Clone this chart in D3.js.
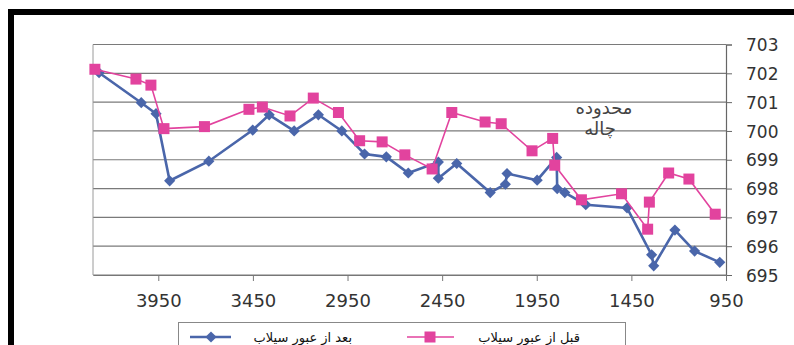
<!DOCTYPE html>
<html><head><meta charset="utf-8">
<script src="https://cdn.jsdelivr.net/npm/d3@7"></script>
<style>body{margin:0;background:#fff;} svg{display:block;}</style>
</head><body>
<script>
// Data
const afterX = [4263,4040,3962,3890,3683,3451,3364,3232,3104,2980,2860,2745,2629,2470,2470,2373,2196,2116,2107,1948,1845,1842,1802,1691,1473,1343,1332,1220,1116,983];
const afterY = [702.02,700.98,700.6,698.27,698.95,700.03,700.56,700.0,700.56,700.0,699.2,699.1,698.54,698.92,698.36,698.87,697.86,698.15,698.52,698.29,699.08,698.0,697.86,697.44,697.33,695.7,695.32,696.56,695.83,695.44];
const beforeX = [4285,4068,3989,3920,3706,3471,3400,3254,3131,2998,2886,2767,2647,2503,2399,2223,2138,1975,1866,1855,1714,1502,1364,1355,1253,1146,1007];
const beforeY = [702.14,701.8,701.59,700.08,700.15,700.75,700.83,700.52,701.14,700.64,699.66,699.62,699.17,698.68,700.64,700.31,700.25,699.31,699.74,698.81,697.61,697.82,696.59,697.53,698.54,698.33,697.11];
const xTicks = [3950,3450,2950,2450,1950,1450,950];
const yTicks = [695,696,697,698,699,700,701,702,703];
const seriesNames = ["بعد از عبور سیلاب","قبل از عبور سیلاب"];
const annotation = ["محدوده","چاله"];

const W=794,H=345;
const blue="#4a66aa", pink="#e2439e";
const svg=d3.select("body").append("svg").attr("width",W).attr("height",H);
svg.append("rect").attr("width",W).attr("height",H).attr("fill","#fff");
// frame bars
svg.append("rect").attr("x",8).attr("y",9).attr("width",W-8).attr("height",6).attr("fill","#000");
svg.append("rect").attr("x",8).attr("y",9).attr("width",6).attr("height",H-9).attr("fill","#000");

const L=93,R=726,T=44.5,B=275;
const x=d3.scaleLinear().domain([4295,950]).range([L,R]);
const y=d3.scaleLinear().domain([695,703]).range([B,T]);

// gridlines
svg.append("g").selectAll("line").data(yTicks).join("line")
  .attr("x1",L).attr("x2",R).attr("y1",d=>y(d)).attr("y2",d=>y(d))
  .attr("stroke","#7a7a7a").attr("stroke-width",1.2);
// plot border left
svg.append("line").attr("x1",L).attr("x2",L).attr("y1",T).attr("y2",B).attr("stroke","#9a9a9a").attr("stroke-width",1);

// right axis
const ya=svg.append("g").attr("transform",`translate(${R},0)`)
  .call(d3.axisRight(y).tickValues(yTicks).tickFormat(d3.format("d")).tickSize(6).tickPadding(14));
ya.select(".domain").attr("stroke","#666").attr("stroke-width",1.2);
ya.selectAll(".tick line").attr("stroke","#666");
ya.selectAll("text").attr("font-family","DejaVu Sans").attr("font-size",17).attr("fill","#333").attr("dy","0.36em");

// bottom axis
const xa=svg.append("g").attr("transform",`translate(0,${B})`)
  .call(d3.axisBottom(x).tickValues(xTicks).tickFormat(d3.format("d")).tickSize(6).tickSizeOuter(0).tickPadding(12));
xa.select(".domain").attr("stroke","#777").attr("stroke-width",1.2);
xa.selectAll(".tick line").attr("stroke","#777");
xa.selectAll("text").attr("font-family","DejaVu Sans").attr("font-size",18).attr("fill","#333").attr("dy","0.75em");

const line=d3.line().x(d=>x(d[0])).y(d=>y(d[1]));
const aData=afterX.map((v,i)=>[v,afterY[i]]);
const bData=beforeX.map((v,i)=>[v,beforeY[i]]);
const diamond=d3.symbol().type(d3.symbolDiamond2).size(80);

svg.append("path").datum(aData).attr("d",line).attr("fill","none").attr("stroke",blue).attr("stroke-width",2.6);
svg.append("g").selectAll("path").data(aData).join("path")
  .attr("d",diamond).attr("transform",d=>`translate(${x(d[0])},${y(d[1])})`).attr("fill",blue);

svg.append("path").datum(bData).attr("d",line).attr("fill","none").attr("stroke",pink).attr("stroke-width",1.6);
svg.append("g").selectAll("rect").data(bData).join("rect")
  .attr("x",d=>x(d[0])-5.5).attr("y",d=>y(d[1])-5.5).attr("width",11).attr("height",11).attr("fill",pink);

// annotation
svg.append("g").selectAll("text").data(annotation).join("text")
  .attr("x",(d,i)=>i?600:604).attr("y",(d,i)=>i?135:114)
  .attr("text-anchor","middle").attr("font-family","DejaVu Sans").attr("font-size",18).attr("fill","#444")
  .attr("direction","rtl").text(d=>d);

// legend
svg.append("rect").attr("x",178.5).attr("y",322.5).attr("width",447).attr("height",40)
  .attr("fill","#fff").attr("stroke","#888").attr("stroke-width",1);
const lg=svg.append("g");
// blue item
lg.append("line").attr("x1",190).attr("x2",231).attr("y1",337).attr("y2",337).attr("stroke",blue).attr("stroke-width",2.6);
lg.append("path").attr("d",diamond).attr("transform","translate(211,337)").attr("fill",blue);
lg.append("text").attr("x",352).attr("y",337).attr("dy","0.35em").attr("text-anchor","start").attr("direction","rtl")
  .attr("font-family","DejaVu Sans").attr("font-size",13).attr("fill","#111").text(seriesNames[0]);
// pink item
lg.append("line").attr("x1",407).attr("x2",454).attr("y1",337).attr("y2",337).attr("stroke",pink).attr("stroke-width",1.6);
lg.append("rect").attr("x",424.5).attr("y",331.5).attr("width",11).attr("height",11).attr("fill",pink);
lg.append("text").attr("x",580).attr("y",337).attr("dy","0.35em").attr("text-anchor","start").attr("direction","rtl")
  .attr("font-family","DejaVu Sans").attr("font-size",13).attr("fill","#111").text(seriesNames[1]);
</script>
</body></html>
